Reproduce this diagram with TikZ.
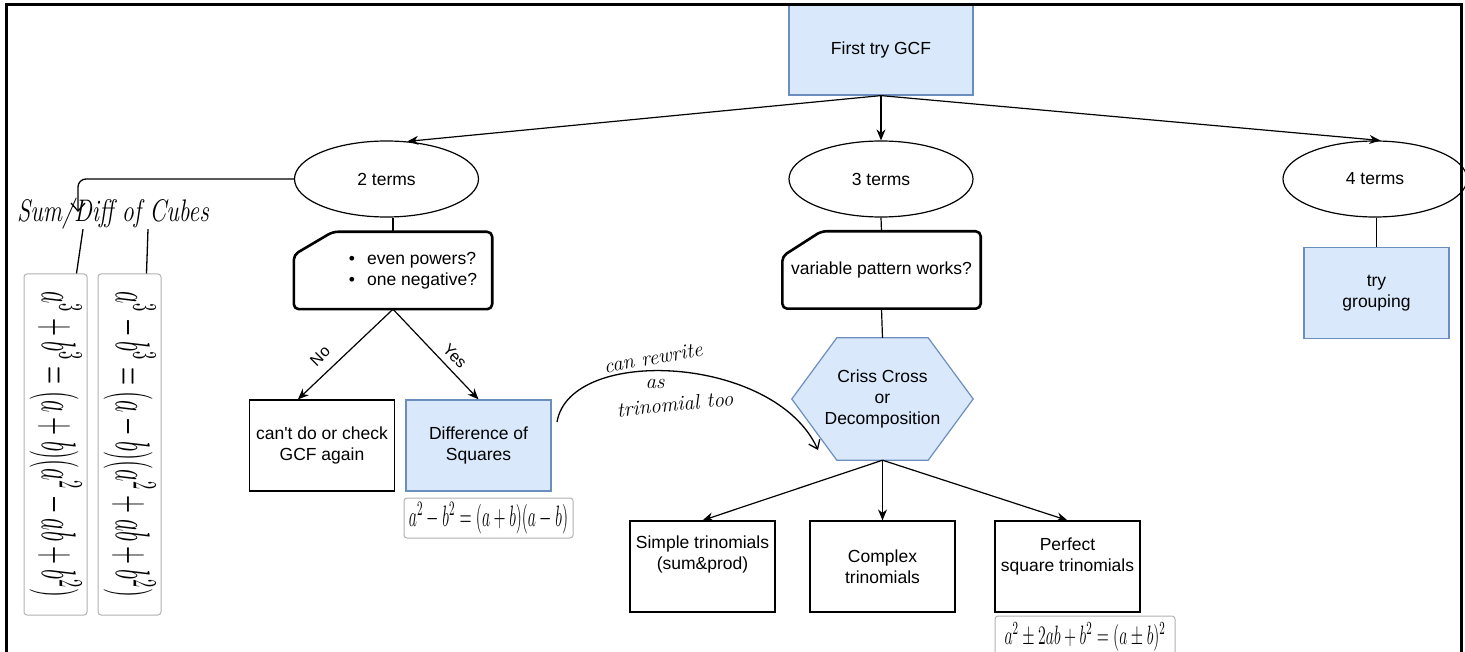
\documentclass[tikz,border=0pt]{standalone}
\usepackage{amsmath}
\usepackage{fontspec}
\usepackage{tikz}
\usetikzlibrary{
		calc,
		arrows.meta,
		shapes.geometric,
		backgrounds,
		positioning
	}
\newfontfamily\flowfont{Liberation Sans}
\definecolor{boxfill}{HTML}{DAE8FC}
\definecolor{boxline}{HTML}{6C8EBF}
\tikzset{
		>={Stealth[length=11pt,width=9pt]}
	}

\begin{document}
\begin{tikzpicture}[x=1pt,y=-1pt,
    every node/.style={font=\flowfont\fontsize{17.5}{21}\selectfont},
    link/.style={line width=1.2pt},
    bluebox/.style={draw=boxline, fill=boxfill, line width=1.2pt, minimum width=145pt, minimum height=91pt, align=center, inner sep=0pt},
    plainbox/.style={draw, line width=1.2pt, minimum width=145pt, minimum height=91pt, align=center, inner sep=0pt},
    terms/.style={ellipse, draw, line width=1.2pt, minimum width=184pt, minimum height=76pt, inner sep=0pt},
    card/.style={minimum width=198pt, minimum height=77pt, inner sep=0pt},
    cardline/.style={line width=2.6pt, rounded corners=5pt, line join=round},
    formula/.style={draw=black!30, fill=white, rounded corners=3pt, line width=1pt, inner sep=1pt, font=\fontsize{14.4}{17}\selectfont},
    hand/.style={font=\rmfamily\itshape\fontsize{21}{23}\selectfont},
    handline/.style={line width=1.3pt}
  ]
    \useasboundingbox (0,0) rectangle (1465,652);

    % the top box and the three cases
    \node[bluebox, minimum width=184pt, minimum height=90pt] (gcf) at (881,50) {First try GCF};
    \node[terms] (two) at (386.5,179) {2 terms};
    \node[terms] (three) at (881,179) {3 terms};
    \node[terms] (four) at (1375,179) {4 terms};

    \draw[link,->] (gcf.south) -- (two.61);
    \draw[link,->] (gcf.south) -- (three.north);
    \draw[link,->] (gcf.south) -- (four.82);

    % 2 terms: the question card and the two answers
    \node[card] (even) at (393,270.5) {};
    \node[align=left] (evenq) at (413,271) {\textbullet\hspace{12pt}even powers?\\\textbullet\hspace{12pt}one negative?};
    \draw[cardline] ($(even.north west)+(0,23)$) -- ($(even.north west)+(39,0)$) -- (even.north east) -- (even.south east) -- (even.south west) -- cycle;
    \draw[link] (two.south -| even.north) -- (even.north);

    \node[plainbox] (cant) at (322,445.5) {can't do or check\\GCF again};
    \node[bluebox] (diff) at (478.5,445.5) {Difference of\\Squares};
    \node[formula, minimum width=169pt, minimum height=40pt] (dsq) at (488.5,518) {\scalebox{1.1}[2.05]{$a^2-b^2=(a+b)(a-b)$}};

    \draw[link,->] (even.south) -- ($(cant.north)!0.33!(cant.north west)$);
    \draw[link,->] (even.south) -- (diff.north);
    \node[rotate=45, font=\flowfont\fontsize{16}{18}\selectfont] (nolabel) at (320,356) {No};
    \node[rotate=-45, font=\flowfont\fontsize{16}{18}\selectfont] (yeslabel) at (455,356) {Yes};

    % 3 terms
    \node[card, align=center] (pattern) at (881.5,270) {variable pattern works?};
    \draw[cardline] ($(pattern.north west)+(0,25)$) -- ($(pattern.north west)+(39,0)$) -- (pattern.north east) -- (pattern.south east) -- (pattern.south west) -- cycle;
    \draw[link] (three.south) -- (pattern.north);

    \node[minimum width=181pt, minimum height=122pt, inner sep=0pt, align=center] (criss) at (882.5,399) {Criss Cross\\or\\Decomposition};
    \begin{scope}[on background layer]
        \filldraw[draw=boxline, fill=boxfill, line width=1.2pt] (criss.west) -- ($(criss.north west)+(45,0)$) -- ($(criss.north east)+(-45,0)$) -- (criss.east) -- ($(criss.south east)+(-45,0)$) -- ($(criss.south west)+(45,0)$) -- cycle;
    \end{scope}
    \draw[link] (pattern.south) -- (criss.north);

    \node[plainbox] (simple) at (702.5,566.5) {};
    \node[align=center] (simpletext) at (702.5,554) {Simple trinomials\\(sum\&prod)};
    \node[plainbox] (complex) at (882.5,566.5) {Complex\\trinomials};
    \node[plainbox] (perfect) at (1067.5,566.5) {};
    \node[align=center] (perfecttext) at (1067.5,556) {Perfect\\square trinomials};
    \node[formula, minimum width=180pt, minimum height=42pt] (psq) at (1085,637) {\scalebox{1.1}[1.85]{$a^2\pm 2ab+b^2=(a\pm b)^2$}};

    \draw[link,->] (criss.south) -- (simple.north);
    \draw[link,->] (criss.south) -- (complex.north);
    \draw[link,->] (criss.south) -- (perfect.north);

    % 4 terms
    \node[bluebox] (group) at (1376.5,293) {try\\grouping};
    \draw[link] (group.north |- four.south) -- (group.north);

    % the hand written notes
    \coordinate (cubetip) at (78,212);
    \draw[handline, -{Straight Barb[length=8pt,width=14pt]}, rounded corners=8pt] (two.west) -| (cubetip);
    \node[hand, font=\rmfamily\itshape\fontsize{24}{26}\selectfont] (cubetitle) at (113,214) {\scalebox{1}[1.3]{Sum/Diff of Cubes}};
    \node[formula, rotate=-90, minimum width=341pt, minimum height=63pt] (sumcube) at (55.5,444.5) {\scalebox{1.64}[3.4]{$a^3+b^3=(a+b)(a^2-ab+b^2)$}};
    \node[formula, rotate=-90, minimum width=341pt, minimum height=63pt] (diffcube) at (129.5,444.5) {\scalebox{1.64}[3.4]{$a^3-b^3=(a-b)(a^2+ab+b^2)$}};
    \draw[handline] ($(cubetitle.south)+(-30,-4)$) -- ($(sumcube.west)+(21,0)$);
    \draw[handline] ($(cubetitle.south)+(35,-4)$) -- ($(diffcube.west)+(17,0)$);

    \coordinate (rwstart) at (557,422);
    \coordinate (rwend) at (818,450);
    \draw[handline, -{Straight Barb[length=8pt,width=12pt]}] (rwstart) .. controls (570,345) and (775,355) .. (rwend);
    \node[hand, rotate=10] (rwtext) at (653,358) {can rewrite};
    \node[hand] (astext) at (655,384) {as};
    \node[hand, rotate=6] (tritext) at (675,404) {trinomial too};

    % the frame
    \draw[line width=3pt] (6,652) -- (6,5) -- (1461,5) -- (1461,652);
\end{tikzpicture}
\end{document}
